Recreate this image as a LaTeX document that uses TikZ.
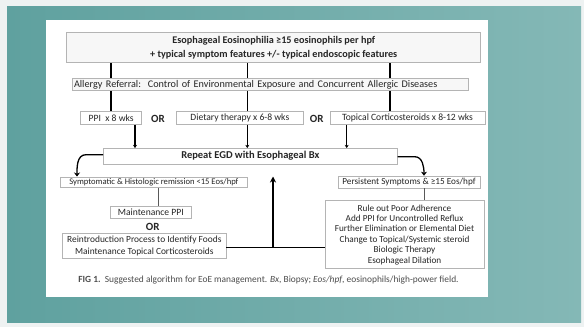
\documentclass[tikz,border=0pt]{standalone}
\usepackage{fontspec}
\setmainfont{Carlito}
\usetikzlibrary{arrows.meta}
\definecolor{frame}{HTML}{EEF2F2}
\definecolor{tealL}{HTML}{5FA19F}
\definecolor{tealR}{HTML}{84B8B6}
\definecolor{boxline}{HTML}{B4B4B4}
\definecolor{ink}{HTML}{262626}
\newcommand{\fs}[1]{\fontsize{#1}{10.4}\selectfont}
\tikzset{
  bx/.style={draw=boxline, line width=0.6pt, fill=white, inner sep=0pt, text=ink,
    font=\fs{9.6}, align=center},
  gbx/.style={bx, fill=gray!6},
  ortext/.style={font=\fontsize{11}{12}\selectfont\bfseries, text=ink, inner sep=0pt},
  tick/.style={line width=1.6pt, black},
  thinarrow/.style={line width=1.3pt, black, -{Stealth[length=3.2pt,width=4pt]}},
  thintick/.style={line width=0.8pt, gray!70!black},
}
\begin{document}
\begin{tikzpicture}[x=1pt,y=-1pt]
\useasboundingbox (0,0) rectangle (584,327);
\fill[frame] (0,0) rectangle (584,327);
\shade[left color=tealL, right color=tealR] (7,6) rectangle (581,322);
\fill[white] (46,20) rectangle (488,297);

% nodes
\node[gbx, minimum width=414pt, minimum height=30pt, font=\fontsize{10.2}{13.6}\selectfont\bfseries] (top) at (273.7,47.7)
  {Esophageal Eosinophilia ≥15 eosinophils per hpf\\
   + typical symptom features +/- typical endoscopic features};
\node[gbx, minimum width=396pt, minimum height=12.4pt, align=left, anchor=west, text width=392pt, font=\fs{10.2}] (allergy) at (71.7,84.5)
  {Allergy Referral:\ \ Control of Environmental Exposure and Concurrent Allergic Diseases};
\node[bx, minimum width=61pt, minimum height=12.6pt] (ppi) at (111.2,118) {PPI \ x 8 wks};
\node[ortext] (or1) at (158,119) {OR};
\node[bx, minimum width=126.3pt, minimum height=12.6pt] (diet) at (239.85,118) {Dietary therapy x 6-8 wks};
\node[ortext] (or2) at (316.7,119) {OR};
\node[bx, minimum width=155pt, minimum height=12.6pt] (topical) at (407.5,118) {Topical Corticosteroids x 8-12 wks};
\node[bx, minimum width=294pt, minimum height=15.7pt, font=\fontsize{10.5}{12}\selectfont\bfseries] (repeat) at (250.3,156.2) {Repeat EGD with Esophageal Bx};
\node[bx, minimum width=186.3pt, minimum height=10.8pt, font=\fs{8.6}] (left) at (153.85,182.2) {Symptomatic \& Histologic remission <15 Eos/hpf};
\node[bx, minimum width=142pt, minimum height=12pt, font=\fs{9.2}] (right) at (409,182) {Persistent Symptoms \& ≥15 Eos/hpf};
\node[bx, minimum width=81.7pt, minimum height=12.3pt] (maint) at (150.85,212.15) {Maintenance PPI};
\node[ortext] (or3) at (152.7,226.7) {OR};
\node[bx, minimum width=163.3pt, minimum height=25pt, font=\fontsize{9.4}{11.5}\selectfont] (reintro) at (144.35,245.8)
  {Reintroduction Process to Identify Foods\\Maintenance Topical Corticosteroids};
\node[bx, minimum width=159pt, minimum height=67.8pt, font=\fs{9.2}] (big) at (404.5,234.6)
  {Rule out Poor Adherence\\Add PPI for Uncontrolled Reflux\\Further Elimination or Elemental Diet\\Change to Topical/Systemic steroid\\Biologic Therapy\\Esophageal Dilation};
\node[text=gray!60!black, font=\fontsize{9.4}{10}\selectfont, inner sep=0pt] (cap) at (268.5,280)
  {\textbf{FIG 1.}\ \ Suggested algorithm for EoE management. \textit{Bx}, Biopsy; \textit{Eos/hpf}, eosinophils/high-power field.};

% x positions of ticks
\coordinate (c1) at (110.7,0);
\coordinate (c2) at (247.3,0);
\coordinate (c3) at (390,0);
\coordinate (d1) at (135,0);
\coordinate (d3) at (346.7,0);
\coordinate (e1) at (158.3,0);
\coordinate (e2) at (424,0);
\coordinate (up) at (273,0);

\foreach \c in {c1,c2,c3}{
  \draw[tick] (top.south -| \c) -- (allergy.north -| \c);
  \draw[tick] (allergy.south -| \c) -- (ppi.north -| \c);
}
\draw[thinarrow] (ppi.south -| d1) -- (repeat.north -| d1);
\draw[thinarrow] (diet.south -| c2) -- (repeat.north -| c2);
\draw[thinarrow] (topical.south -| d3) -- (repeat.north -| d3);

% curved arrows
\draw[line width=1.3pt, -{Stealth[length=4pt,width=6pt]}] ([yshift=1.5pt]repeat.west) -- ++(-17,0) to[out=180,in=90] (left.north -| 77,0);
\draw[line width=1.3pt, -{Stealth[length=4pt,width=6pt]}] ([yshift=-0.5pt]repeat.east) -- ++(17,0) to[out=0,in=90] (right.north -| 424,0);

\draw[thintick] (left.south -| e1) -- (maint.north -| e1);
\draw[thintick] (right.south -| e2) -- (big.north -| e2);

% feedback
\coordinate (j) at (273,247.5);
\draw[line width=1.6pt] (reintro.east |- j) -- (big.west |- j);
\draw[line width=1.6pt, -{Stealth[length=6pt,width=6pt]}] (j) -- (left.north -| up);
\end{tikzpicture}
\end{document}
